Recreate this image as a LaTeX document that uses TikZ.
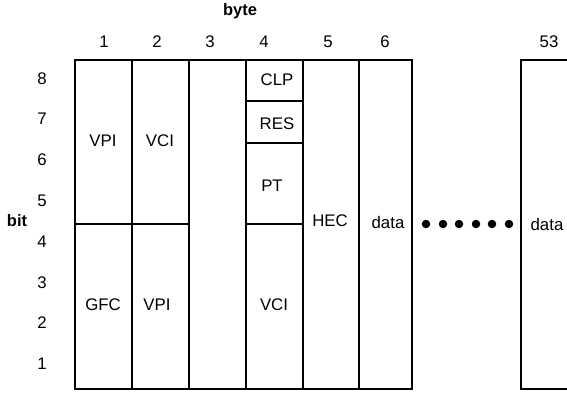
\documentclass[tikz,border=0pt]{standalone}
\usepackage{fontspec}
\setmainfont{Liberation Sans}
\begin{document}
\begin{tikzpicture}[x=1pt,y=-1pt,
  lbl/.style={inner sep=0pt,font=\fontsize{16.8}{19}\selectfont},
  ttl/.style={inner sep=0pt,font=\fontsize{16.5}{19}\selectfont\bfseries},
  grid/.style={line width=1.2pt,line cap=rect},
  dot/.style={circle,fill=black,inner sep=0pt,minimum size=8.5pt}]
\useasboundingbox (0,0) rectangle (567,392);
% column boundaries
\foreach \n/\x in {a/75,b/132,c/189,d/246,e/303,f/359,g/412,h/521}{
  \coordinate (\n t) at (\x,60);
  \coordinate (\n m) at (\x,224);
  \coordinate (\n b) at (\x,389);
}
\coordinate (rt) at (567,60);
\coordinate (rb) at (567,389);
\coordinate (c41) at (303,101);
\coordinate (c40) at (246,101);
\coordinate (c42) at (303,143);
\coordinate (c43) at (246,143);
% main block
\draw[grid] (at) rectangle (gb);
\foreach \n in {b,c,d,e,f}{ \draw[grid] (\n t) -- (\n b); }
\draw[grid] (am) -- (cm);
\draw[grid] (dm) -- (em);
\draw[grid] (c40) -- (c41);
\draw[grid] (c43) -- (c42);
% last column
\draw[grid] (rt) -- (ht) -- (hb) -- (rb);
% titles
\node[ttl] (byte) at (240,11) {byte};
\node[ttl] (bit) at (17,221) {bit};
% column numbers
\foreach \t/\x in {1/104,2/157,3/210,4/264,5/328,6/385,53/549}{
  \node[lbl] (col\t) at (\x,42) {\t};
}
% bit numbers
\foreach \t/\y in {8/79,7/119,6/160,5/201,4/242,3/283,2/323,1/364}{
  \node[lbl] (row\t) at (42,\y) {\t};
}
% field labels
\node[lbl] (vpi1) at (103,141) {VPI};
\node[lbl] (vci2) at (160,141) {VCI};
\node[lbl] (gfc) at (103,305) {GFC};
\node[lbl] (vpi2) at (157,305) {VPI};
\node[lbl] (vci4) at (274,305) {VCI};
\node[lbl] (clp) at (277,80) {CLP};
\node[lbl] (res) at (277,124) {RES};
\node[lbl] (pt) at (272,186) {PT};
\node[lbl] (hec) at (330,221) {HEC};
\node[lbl] (data6) at (388,222) {data};
\node[lbl] (data53) at (547,224) {data};
% dots
\foreach \i/\x in {1/426,2/443,3/459,4/476,5/492,6/509}{
  \node[dot] (dot\i) at (\x,224) {};
}
\end{tikzpicture}
\end{document}
